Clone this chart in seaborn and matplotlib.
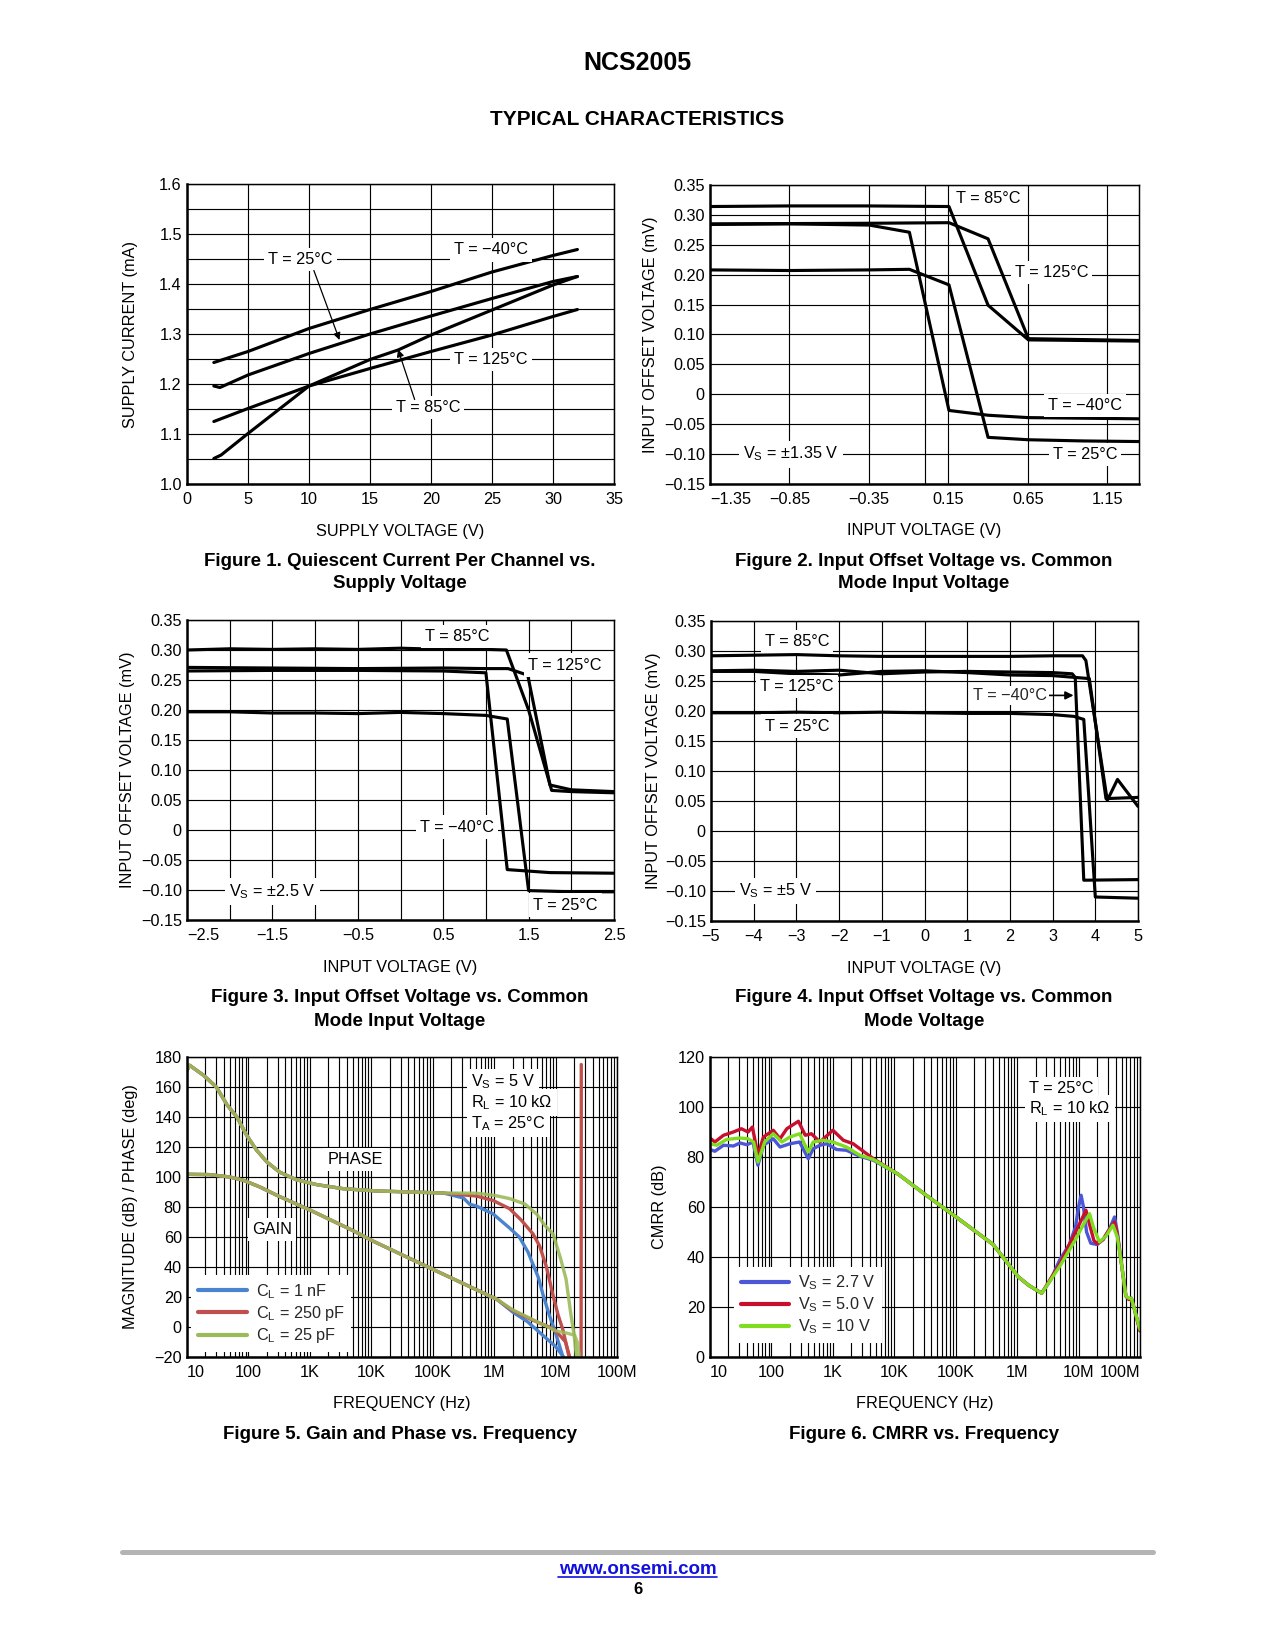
import numpy as np
import pandas as pd
import matplotlib
matplotlib.use("Agg")
import matplotlib.pyplot as plt
import seaborn as sns
from matplotlib.lines import Line2D
from matplotlib.ticker import LogLocator, NullFormatter, FixedLocator

# ======================= DATA =======================
# ---- Figure 1: supply current vs supply voltage ----
f1_xticks = [0, 5, 10, 15, 20, 25, 30, 35]
f1_xticklabels = ["0", "5", "10", "15", "20", "25", "30", "35"]
f1_yticks = [1.0, 1.05, 1.1, 1.15, 1.2, 1.25, 1.3, 1.35, 1.4, 1.45, 1.5, 1.55, 1.6]
f1_yticklabels = ["1.0", "", "1.1", "", "1.2", "", "1.3", "", "1.4", "", "1.5", "", "1.6"]
f1_v_m40 = [2.2, 5, 10, 15, 20, 25, 30, 32]
f1_i_m40 = [1.243, 1.265, 1.311, 1.349, 1.385, 1.424, 1.457, 1.469]
f1_v_25 = [2.2, 2.7, 5, 10, 15, 20, 25, 30, 32]
f1_i_25 = [1.196, 1.193, 1.218, 1.261, 1.300, 1.336, 1.371, 1.405, 1.415]
f1_v_85 = [2.2, 2.8, 5, 10, 15, 17.3, 20, 25, 30, 32]
f1_i_85 = [1.051, 1.058, 1.101, 1.196, 1.249, 1.268, 1.298, 1.348, 1.398, 1.415]
f1_v_125 = [2.2, 5, 10, 15, 20, 25, 30, 32]
f1_i_125 = [1.125, 1.151, 1.196, 1.231, 1.265, 1.298, 1.335, 1.349]

# ---- shared offset-voltage y axis ----
vos_yticks = [0.35, 0.30, 0.25, 0.20, 0.15, 0.10, 0.05, 0.0, -0.05, -0.10, -0.15]
vos_yticklabels = ["0.35", "0.30", "0.25", "0.20", "0.15", "0.10", "0.05", "0",
                   "\u22120.05", "\u22120.10", "\u22120.15"]

# ---- Figure 2: Vs = +/-1.35 V ----
f2_xticks = [-1.35, -0.85, -0.35, 0.0, 0.15, 0.65, 1.15]
f2_xticklabels = ["\u22121.35", "\u22120.85", "\u22120.35", "", "0.15", "0.65", "1.15"]
f2_x_85 = [-1.35, -0.85, -0.35, 0.154, 0.40, 0.654, 1.0, 1.35]
f2_y_85 = [0.314, 0.315, 0.315, 0.314, 0.149, 0.091, 0.090, 0.089]
f2_x_125 = [-1.35, -0.35, 0.154, 0.40, 0.654, 1.35]
f2_y_125 = [0.285, 0.286, 0.287, 0.260, 0.093, 0.090]
f2_x_m40 = [-1.35, -0.85, -0.348, -0.095, 0.154, 0.40, 0.654, 1.0, 1.35]
f2_y_m40 = [0.284, 0.285, 0.283, 0.271, -0.027, -0.035, -0.039, -0.040, -0.041]
f2_x_25 = [-1.35, -0.85, -0.35, -0.095, 0.154, 0.40, 0.654, 1.0, 1.35]
f2_y_25 = [0.208, 0.207, 0.208, 0.209, 0.183, -0.072, -0.076, -0.078, -0.079]

# ---- Figure 3: Vs = +/-2.5 V ----
f3_xticks = [-2.5, -2.0, -1.5, -1.0, -0.5, 0.0, 0.5, 1.0, 1.5, 2.0, 2.5]
f3_xticklabels = ["\u22122.5", "", "\u22121.5", "", "\u22120.5", "", "0.5", "", "1.5", "", "2.5"]
f3_x_85 = [-2.5, -2.0, -1.5, -1.0, -0.5, 0.0, 0.5, 1.0, 1.24, 1.50, 1.77, 2.0, 2.5]
f3_y_85 = [0.300, 0.302, 0.301, 0.302, 0.301, 0.303, 0.301, 0.301, 0.300, 0.200, 0.066, 0.064, 0.062]
f3_x_125 = [-2.5, -1.5, -0.5, 0.5, 1.0, 1.26, 1.49, 1.75, 2.0, 2.5]
f3_y_125 = [0.271, 0.270, 0.269, 0.270, 0.269, 0.269, 0.258, 0.075, 0.067, 0.064]
f3_x_m40 = [-2.5, -1.5, -0.5, 0.5, 1.0, 1.25, 1.75, 2.5]
f3_y_m40 = [0.265, 0.266, 0.266, 0.265, 0.262, -0.066, -0.071, -0.072]
f3_x_25 = [-2.5, -2.0, -1.5, -1.0, -0.5, 0.0, 0.5, 1.0, 1.25, 1.5, 2.0, 2.5]
f3_y_25 = [0.197, 0.197, 0.195, 0.195, 0.194, 0.196, 0.194, 0.191, 0.185, -0.101, -0.103, -0.103]

# ---- Figure 4: Vs = +/-5 V ----
f4_xticks = [-5, -4, -3, -2, -1, 0, 1, 2, 3, 4, 5]
f4_xticklabels = ["\u22125", "\u22124", "\u22123", "\u22122", "\u22121", "0", "1", "2", "3", "4", "5"]
f4_x_85 = [-5, -4, -3, -2, -1, 0, 1, 2, 3, 3.70, 3.78, 4.28, 4.52, 5.0]
f4_y_85 = [0.292, 0.293, 0.294, 0.292, 0.291, 0.291, 0.291, 0.291, 0.292, 0.292, 0.284, 0.051, 0.086, 0.041]
f4_x_125 = [-5, -4, -3, -2, -1, 0, 1, 2, 3, 3.86, 4.25, 5.0]
f4_y_125 = [0.266, 0.266, 0.262, 0.260, 0.266, 0.267, 0.264, 0.260, 0.259, 0.254, 0.054, 0.056]
f4_x_m40 = [-5, -4, -3, -2, -1, 0, 1, 2, 3, 3.46, 3.53, 3.73, 5.0]
f4_y_m40 = [0.267, 0.268, 0.266, 0.268, 0.262, 0.265, 0.266, 0.265, 0.264, 0.262, 0.256, -0.082, -0.081]
f4_x_25 = [-5, -4, -3, -2, -1, 0, 1, 2, 3, 3.5, 3.73, 4.0, 5.0]
f4_y_25 = [0.197, 0.197, 0.198, 0.197, 0.198, 0.197, 0.196, 0.196, 0.194, 0.191, 0.186, -0.110, -0.112]

# ---- frequency axes ----
freq_ticks = [10, 100, 1e3, 1e4, 1e5, 1e6, 1e7, 1e8]
freq_ticklabels = ["10", "100", "1K", "10K", "100K", "1M", "10M", "100M"]

# ---- Figure 5: gain and phase ----
f5_yticks = [-20, 0, 20, 40, 60, 80, 100, 120, 140, 160, 180]
phase_f_common = [10, 11, 18.6, 30, 45, 65, 93, 135, 200, 320, 600, 1300, 3500, 12000, 43000, 150000]
phase_common = [171, 174.5, 167.8, 160, 148, 140, 128, 118, 110, 103.3, 98.2, 94.9, 92.2, 90.7, 90, 89.3]
phase_f_1nF = [316000, 400000, 510000, 955000, 1.78e6, 2.57e6, 3.55e6, 5.25e6, 6.2e6, 7.9e6, 1.0e7, 1.32e7]
phase_1nF = [86, 81.8, 80.7, 75.5, 66, 60, 50, 33, 22, 8, -4, -20]
phase_f_250p = [510000, 955000, 1.78e6, 2.8e6, 4.3e6, 5.5e6, 7.1e6, 9.1e6, 1.1e7, 1.32e7, 1.66e7, 2.2e7, 2.6e7, 2.62e7, 2.62e7]
phase_250p = [87.3, 84.4, 78.9, 71, 62, 54, 40, 21, 8, -2, -20, -40, -45, 137, 175]
phase_f_25p = [510000, 1.0e6, 1.78e6, 3.16e6, 5.0e6, 6.6e6, 9.1e6, 1.2e7, 1.48e7, 1.78e7, 2.0e7, 2.19e7]
phase_25p = [89.2, 87.8, 85.6, 82, 75, 68, 62, 46, 32, 8, -5, -20]
gain_f_common = [10, 23, 50, 83, 155, 290, 1000, 4900, 11000, 100000, 1.1e6]
gain_common = [101.8, 101.6, 100, 97.8, 93.3, 87.8, 78, 64.5, 57, 38.5, 18.5]
gain_f_1nF = [2e6, 3.5e6, 6e6, 1e7, 1.35e7]
gain_1nF = [10, 3.5, -5, -13, -20]
gain_f_250p = [2e6, 4e6, 9e6, 1.2e7, 1.45e7, 1.7e7]
gain_250p = [11, 5, -1, -6, -10, -20]
gain_f_25p = [2e6, 4e6, 1e7, 1.5e7, 2.05e7, 2.3e7, 2.45e7]
gain_25p = [11.5, 5.5, -2.5, -4, -5.5, -11, -20]
f5_labels = ["C$_\\mathregular{L}$ = 1 nF", "C$_\\mathregular{L}$ = 250 pF", "C$_\\mathregular{L}$ = 25 pF"]

# ---- Figure 6: CMRR ----
f6_yticks = [0, 20, 40, 60, 80, 100, 120]
cm_f_27 = [10, 12, 16.6, 24, 30.9, 39.8, 50.1, 60.3, 74.1, 107, 138, 200, 288, 398, 479, 617, 794, 1150, 1660, 2750, 4570]
cm_27 = [83, 82.3, 84.7, 84.4, 85.6, 84.9, 86, 76.7, 84.7, 87.3, 84, 85.3, 86, 79.3, 83.3, 84.7, 85.3, 83, 82.7, 80.3, 78.7]
cm_f_50 = [10, 12, 16.6, 24, 32.4, 41.7, 49, 60.3, 74.1, 107, 138, 178, 275, 355, 447, 617, 1000, 1480, 2140, 3550, 4570]
cm_50 = [87.6, 86, 88.7, 90, 91.3, 90, 92, 80.7, 88, 90.7, 87.3, 91.3, 94.3, 88.7, 89.3, 86, 90.7, 86.7, 85.3, 81.3, 79.3]
cm_f_10 = [10, 12.9, 18.6, 30.9, 41.7, 51.3, 60.3, 77.6, 107, 148, 200, 288, 398, 479, 692, 1000, 1660, 2750, 4570]
cm_10 = [85.3, 84.7, 87, 87.6, 87.3, 86, 78, 86, 89.3, 86, 88, 89.3, 82, 86, 86.7, 86, 84, 80.7, 79]
cm_f_common = [11750, 33100, 115000, 407000, 1.05e6, 1.58e6, 2.51e6]
cm_common = [73, 64.7, 55, 45, 32, 28.5, 25.5]
cm_f_tail_27 = [3.55e6, 4.9e6, 7.08e6, 8.91e6, 1.0e7, 1.1e7, 1.2e7, 1.35e7, 1.58e7, 2.0e7, 2.51e7, 3.16e7, 3.85e7, 4.27e7, 5.01e7, 5.89e7, 6.61e7, 7.24e7, 8.13e7, 1e8]
cm_tail_27 = [31, 38.7, 45, 52, 60, 64.7, 60, 50, 45.5, 45, 47, 51, 56, 50, 37, 24.4, 23, 23.5, 19, 10.5]
cm_f_tail_50 = [5.01e6, 8.91e6, 1.12e7, 1.32e7, 1.51e7, 1.78e7, 2.04e7, 2.51e7, 3.16e7, 3.85e7, 4.27e7, 5.01e7, 5.89e7, 6.61e7, 7.24e7, 8.13e7, 1e8]
cm_tail_50 = [37.5, 50, 55, 58.7, 53, 46.5, 45.3, 47, 51, 54, 49, 37, 24.4, 23, 23.5, 19, 10.5]
cm_f_tail_10 = [5.01e6, 8.91e6, 1.26e7, 1.51e7, 1.74e7, 2.19e7, 2.82e7, 3.63e7, 4.27e7, 5.01e7, 5.89e7, 6.61e7, 7.24e7, 8.13e7, 1e8]
cm_tail_10 = [36.5, 47, 54, 57.3, 52, 46, 48.5, 52.7, 48, 37, 24.4, 23.5, 23.5, 19, 11]
f6_labels = ["V$_\\mathregular{S}$ = 2.7 V", "V$_\\mathregular{S}$ = 5.0 V", "V$_\\mathregular{S}$ = 10 V"]

# ======================= STYLE =======================
sns.set_theme(style="white")
plt.rcParams["font.family"] = ["Liberation Sans", "DejaVu Sans"]
plt.rcParams["axes.unicode_minus"] = True

FS = 7.8
W, H = 1275, 1650
fig = plt.figure(figsize=(8.5, 11), dpi=150)
fig.patch.set_facecolor("white")


def rect(l, t, r, b):
    return [l / W, 1 - b / H, (r - l) / W, (b - t) / H]


def style(ax, log=False):
    ax.set_facecolor("white")
    ax.set_axisbelow(True)
    for s in ax.spines.values():
        s.set_color("black")
        s.set_visible(True)
    for s in ["left", "bottom"]:
        ax.spines[s].set_linewidth(1.2)
    for s in ["top", "right"]:
        ax.spines[s].set_linewidth(0.7)
    ax.tick_params(which="both", length=0, labelsize=FS, colors="black")
    ax.tick_params(axis="x", which="both", pad=4)
    ax.tick_params(axis="y", which="both", pad=2.5)
    ax.grid(True, which="major", color="black", linewidth=0.55)
    if log:
        ax.set_xscale("log")
        ax.xaxis.set_minor_locator(LogLocator(base=10, subs=range(2, 10), numticks=20))
        ax.xaxis.set_minor_formatter(NullFormatter())
        ax.grid(True, which="minor", axis="x", color="black", linewidth=0.55)


def curve(ax, x, y, color="black", lw=1.5, alpha=1.0, z=2):
    sns.lineplot(x=x, y=y, ax=ax, color=color, linewidth=lw, sort=False,
                 estimator=None, legend=False, alpha=alpha, zorder=z)


BOX = dict(boxstyle="square,pad=0.25", fc="white", ec="none")


def label(ax, x, y, s, ha="center", va="center"):
    ax.text(x, y, s, fontsize=FS, ha=ha, va=va, bbox=BOX, zorder=3, color="black")


def axis_text(ax, xl, yl, xlc, ylc):
    ax.set_xlabel(xl, fontsize=FS, color="black", va="top")
    ax.set_ylabel(yl, fontsize=FS, color="black")
    ax.xaxis.set_label_coords(0.5, xlc)
    ax.yaxis.set_label_coords(ylc, 0.5)


def edge_labels(ax, first_left=True, last_right=False):
    labs = ax.get_xticklabels()
    if first_left:
        labs[0].set_horizontalalignment("left")
    if last_right:
        labs[-1].set_horizontalalignment("right")


ARROW = dict(arrowstyle="-|>", color="black", lw=0.6, shrinkA=0, shrinkB=0, mutation_scale=7)

# ---------------- Figure 1 ----------------
ax1 = fig.add_axes(rect(187, 184, 614, 484))
style(ax1)
for xv, yv in [(f1_v_m40, f1_i_m40), (f1_v_25, f1_i_25), (f1_v_85, f1_i_85), (f1_v_125, f1_i_125)]:
    curve(ax1, xv, yv)
ax1.set_xlim(0, 35)
ax1.set_ylim(1.0, 1.6)
ax1.set_xticks(f1_xticks)
ax1.set_xticklabels(f1_xticklabels)
ax1.set_yticks(f1_yticks)
ax1.set_yticklabels(f1_yticklabels)
label(ax1, 9.3, 1.449, "T = 25\u00b0C")
label(ax1, 24.9, 1.468, "T = \u221240\u00b0C")
label(ax1, 24.9, 1.249, "T = 125\u00b0C")
label(ax1, 19.75, 1.153, "T = 85\u00b0C")
ax1.annotate("", xy=(12.5, 1.288), xytext=(10.4, 1.427), arrowprops=ARROW)
ax1.annotate("", xy=(17.3, 1.269), xytext=(18.66, 1.169), arrowprops=ARROW)
axis_text(ax1, "SUPPLY VOLTAGE (V)", "SUPPLY CURRENT (mA)", -0.132, -0.114)

# ---------------- Figure 2 ----------------
ax2 = fig.add_axes(rect(710, 185, 1139, 484))
style(ax2)
for xv, yv in [(f2_x_85, f2_y_85), (f2_x_125, f2_y_125), (f2_x_m40, f2_y_m40), (f2_x_25, f2_y_25)]:
    curve(ax2, xv, yv)
ax2.set_xlim(-1.35, 1.35)
ax2.set_ylim(-0.15, 0.35)
ax2.set_xticks(f2_xticks)
ax2.set_xticklabels(f2_xticklabels)
edge_labels(ax2)
ax2.set_yticks(vos_yticks)
ax2.set_yticklabels(vos_yticklabels)
label(ax2, 0.40, 0.327, "T = 85\u00b0C")
label(ax2, 0.80, 0.203, "T = 125\u00b0C")
label(ax2, 1.01, -0.018, "T = \u221240\u00b0C")
label(ax2, 1.01, -0.100, "T = 25\u00b0C")
label(ax2, -0.84, -0.100, "V$_\\mathregular{S}$ = \u00b11.35 V")
axis_text(ax2, "INPUT VOLTAGE (V)", "INPUT OFFSET VOLTAGE (mV)", -0.132, -0.122)

# ---------------- Figure 3 ----------------
ax3 = fig.add_axes(rect(187, 620, 614, 920))
style(ax3)
for xv, yv in [(f3_x_85, f3_y_85), (f3_x_125, f3_y_125), (f3_x_m40, f3_y_m40), (f3_x_25, f3_y_25)]:
    curve(ax3, xv, yv)
ax3.set_xlim(-2.5, 2.5)
ax3.set_ylim(-0.15, 0.35)
ax3.set_xticks(f3_xticks)
ax3.set_xticklabels(f3_xticklabels)
edge_labels(ax3)
ax3.set_yticks(vos_yticks)
ax3.set_yticklabels(vos_yticklabels)
label(ax3, 0.66, 0.322, "T = 85\u00b0C")
label(ax3, 1.92, 0.275, "T = 125\u00b0C")
label(ax3, 0.66, 0.005, "T = \u221240\u00b0C")
label(ax3, 1.93, -0.125, "T = 25\u00b0C")
label(ax3, -1.5, -0.102, "V$_\\mathregular{S}$ = \u00b12.5 V")
axis_text(ax3, "INPUT VOLTAGE (V)", "INPUT OFFSET VOLTAGE (mV)", -0.133, -0.122)

# ---------------- Figure 4 ----------------
ax4 = fig.add_axes(rect(711, 621, 1138, 921))
style(ax4)
for xv, yv in [(f4_x_85, f4_y_85), (f4_x_125, f4_y_125), (f4_x_m40, f4_y_m40), (f4_x_25, f4_y_25)]:
    curve(ax4, xv, yv)
ax4.set_xlim(-5, 5)
ax4.set_ylim(-0.15, 0.35)
ax4.set_xticks(f4_xticks)
ax4.set_xticklabels(f4_xticklabels)
ax4.set_yticks(vos_yticks)
ax4.set_yticklabels(vos_yticklabels)
label(ax4, -2.99, 0.316, "T = 85\u00b0C")
label(ax4, -2.99, 0.241, "T = 125\u00b0C")
label(ax4, -2.99, 0.175, "T = 25\u00b0C")
label(ax4, -3.49, -0.100, "V$_\\mathregular{S}$ = \u00b15 V")
ax4.annotate("T = \u221240\u00b0C", xy=(3.49, 0.226), xytext=(2.01, 0.226), ha="center", va="center",
             fontsize=FS, bbox=dict(boxstyle="square,pad=0.1", fc="white", ec="none"),
             arrowprops=dict(arrowstyle="-|>", color="black", lw=0.8, shrinkA=0, shrinkB=0,
                             mutation_scale=8), zorder=3)
axis_text(ax4, "INPUT VOLTAGE (V)", "INPUT OFFSET VOLTAGE (mV)", -0.133, -0.116)

# ---------------- Figure 5 ----------------
C5 = ["#4a84cf", "#c0504d", "#9bbb59"]
ax5 = fig.add_axes(rect(187, 1057, 617, 1357))
style(ax5, log=True)
curve(ax5, phase_f_common + phase_f_1nF, phase_common + phase_1nF, C5[0], 1.6)
curve(ax5, gain_f_common + gain_f_1nF, gain_common + gain_1nF, C5[0], 1.6)
curve(ax5, phase_f_common + phase_f_250p, phase_common + phase_250p, C5[1], 1.6)
curve(ax5, gain_f_common + gain_f_250p, gain_common + gain_250p, C5[1], 1.6)
curve(ax5, phase_f_common + phase_f_25p, phase_common + phase_25p, C5[2], 1.6, alpha=0.9)
curve(ax5, gain_f_common + gain_f_25p, gain_common + gain_25p, C5[2], 1.6, alpha=0.85)
ax5.set_xlim(10, 1e8)
ax5.set_ylim(-20, 180)
ax5.xaxis.set_major_locator(FixedLocator(freq_ticks))
ax5.set_xticklabels(freq_ticklabels)
edge_labels(ax5)
ax5.set_yticks(f5_yticks)
ax5.set_yticklabels([f"{v:d}".replace("-", "\u2212") for v in f5_yticks])
label(ax5, 4.27e5, 163.3, "V$_\\mathregular{S}$ = 5 V", ha="left")
label(ax5, 4.27e5, 149.6, "R$_\\mathregular{L}$ = 10 k\u03a9", ha="left")
label(ax5, 4.27e5, 135.6, "T$_\\mathregular{A}$ = 25\u00b0C", ha="left")
label(ax5, 5.4e3, 111.6, "PHASE")
label(ax5, 245, 64.9, "GAIN")
h5 = [Line2D([0], [0], color=c, lw=2.0) for c in C5]
leg5 = ax5.legend(h5, f5_labels, loc="lower left", bbox_to_anchor=(0.012, 0.02), borderaxespad=0,
                  fontsize=FS, frameon=True, fancybox=False, framealpha=1, facecolor="white",
                  edgecolor="white", handlelength=3.0, handletextpad=0.55, labelspacing=0.2,
                  borderpad=0.35)
leg5.set_zorder(5)
axis_text(ax5, "FREQUENCY (Hz)", "MAGNITUDE (dB) / PHASE (deg)", -0.129, -0.113)

# ---------------- Figure 6 ----------------
C6 = ["#4b57d7", "#c8102e", "#7fdc1e"]
ax6 = fig.add_axes(rect(710, 1057, 1140, 1357))
style(ax6, log=True)
curve(ax6, cm_f_27 + cm_f_common + cm_f_tail_27, cm_27 + cm_common + cm_tail_27, C6[0], 1.6)
curve(ax6, cm_f_50 + cm_f_common + cm_f_tail_50, cm_50 + cm_common + cm_tail_50, C6[1], 1.6)
curve(ax6, cm_f_10 + cm_f_common + cm_f_tail_10, cm_10 + cm_common + cm_tail_10, C6[2], 1.6)
ax6.set_xlim(10, 1e8)
ax6.set_ylim(0, 120)
ax6.xaxis.set_major_locator(FixedLocator(freq_ticks))
ax6.set_xticklabels(freq_ticklabels)
edge_labels(ax6, True, True)
ax6.set_yticks(f6_yticks)
ax6.set_yticklabels([str(v) for v in f6_yticks])
label(ax6, 1.58e6, 107.4, "T = 25\u00b0C", ha="left")
label(ax6, 1.58e6, 99.4, "R$_\\mathregular{L}$ = 10 k\u03a9", ha="left")
h6 = [Line2D([0], [0], color=c, lw=2.0) for c in C6]
leg6 = ax6.legend(h6, f6_labels, loc="lower left", bbox_to_anchor=(0.058, 0.05), borderaxespad=0,
                  fontsize=FS, frameon=True, fancybox=False, framealpha=1, facecolor="white",
                  edgecolor="white", handlelength=3.0, handletextpad=0.55, labelspacing=0.2,
                  borderpad=0.35)
leg6.set_zorder(5)
axis_text(ax6, "FREQUENCY (Hz)", "CMRR (dB)", -0.129, -0.099)

# ---------------- page texts ----------------
def ftext(xp, yp, s, **kw):
    fig.text(xp / W, 1 - yp / H, s, ha="center", va="center", color="black", **kw)

ftext(637.5, 63, "NCS2005", fontsize=12, fontweight="bold")
ftext(637.5, 119.5, "TYPICAL CHARACTERISTICS", fontsize=10, fontweight="bold")
ftext(400, 562, "Figure 1. Quiescent Current Per Channel vs.", fontsize=9, fontweight="bold")
ftext(400, 584, "Supply Voltage", fontsize=9, fontweight="bold")
ftext(924, 562, "Figure 2. Input Offset Voltage vs. Common", fontsize=9, fontweight="bold")
ftext(924, 584, "Mode Input Voltage", fontsize=9, fontweight="bold")
ftext(400, 998, "Figure 3. Input Offset Voltage vs. Common", fontsize=9, fontweight="bold")
ftext(400, 1021, "Mode Input Voltage", fontsize=9, fontweight="bold")
ftext(924, 998, "Figure 4. Input Offset Voltage vs. Common", fontsize=9, fontweight="bold")
ftext(924, 1021, "Mode Voltage", fontsize=9, fontweight="bold")
ftext(400, 1434.5, "Figure 5. Gain and Phase vs. Frequency", fontsize=9, fontweight="bold")
ftext(924, 1434.5, "Figure 6. CMRR vs. Frequency", fontsize=9, fontweight="bold")

fig.add_artist(Line2D([122 / W, 1153 / W], [1 - 1551.5 / H] * 2, color="#b4b4b4", lw=2.4,
                      transform=fig.transFigure))
fig.text(637.5 / W, 1 - 1569.5 / H, "www.onsemi.com", ha="center", va="center", fontsize=9,
         fontweight="bold", color="#1010e0")
fig.add_artist(Line2D([558 / W, 717 / W], [1 - 1577 / H] * 2, color="#1010e0", lw=0.8,
                      transform=fig.transFigure))
ftext(637.5, 1589, "6", fontsize=8, fontweight="bold")

fig.savefig("out.png", dpi=150, facecolor="white")
